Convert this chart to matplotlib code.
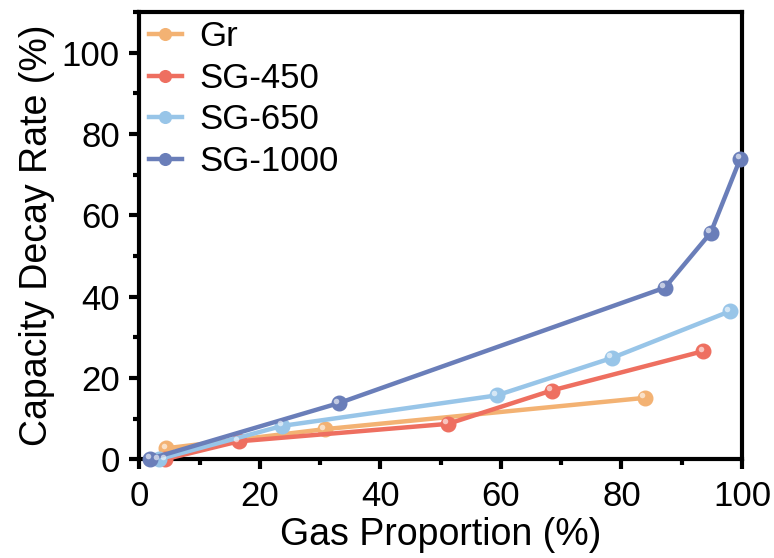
import matplotlib.pyplot as plt
import matplotlib.transforms as mtransforms
from matplotlib.ticker import MultipleLocator

plt.rcParams['font.family'] = ['Liberation Sans', 'DejaVu Sans']

names = ['Gr', 'SG-450', 'SG-650', 'SG-1000']
colors = ['#F3B273', '#EE6F60', '#98C5E8', '#6A7EB9']

gr_x = [4.5, 30.8, 83.9]
gr_y = [2.7, 7.4, 15.1]
sg450_x = [4.3, 16.5, 51.2, 68.4, 93.6]
sg450_y = [0.0, 4.4, 8.7, 16.9, 26.6]
sg650_x = [3.2, 23.7, 59.3, 78.4, 98.0]
sg650_y = [0.0, 8.2, 15.7, 24.9, 36.4]
sg1000_x = [1.8, 33.1, 87.2, 94.8, 99.7]
sg1000_y = [0.1, 13.8, 42.2, 55.7, 73.9]

series = [(gr_x, gr_y), (sg450_x, sg450_y), (sg650_x, sg650_y), (sg1000_x, sg1000_y)]

fig = plt.figure(figsize=(7.74, 5.58), dpi=100)
ax = fig.add_axes([0.18, 0.177, 0.7787, 0.8015])

hl = mtransforms.offset_copy(ax.transData, fig=fig, x=-2.5, y=2.5, units='dots')

for (xs, ys), name, c in zip(series, names, colors):
    ax.plot(xs, ys, '-o', color=c, lw=3.2, ms=10.5, mec=c, mfc=c, label=name, clip_on=False, zorder=3)
    # little shine on the balls
    ax.plot(xs, ys, 'o', color='white', ms=4, mec='none', alpha=0.6, transform=hl, clip_on=False, zorder=4)

ax.set_xlim(0, 100)
ax.set_ylim(0, 110)
ax.xaxis.set_major_locator(MultipleLocator(20))
ax.xaxis.set_minor_locator(MultipleLocator(10))
ax.yaxis.set_major_locator(MultipleLocator(20))
ax.yaxis.set_minor_locator(MultipleLocator(10))
ax.set_yticks([0, 20, 40, 60, 80, 100])

for s in ax.spines.values():
    s.set_linewidth(3)
ax.tick_params(which='major', direction='out', length=7, width=3, labelsize=25)
ax.tick_params(axis='x', which='major', pad=8)
ax.tick_params(axis='y', which='major', pad=7)
ax.tick_params(which='minor', direction='out', length=4.5, width=3)

ax.set_xlabel('Gas Proportion (%)', fontsize=27, labelpad=3)
ax.set_ylabel('Capacity Decay Rate (%)', fontsize=27, labelpad=5)

ax.legend(loc='upper left', frameon=False, fontsize=25, handlelength=0.95, handletextpad=0.5,
          labelspacing=0.25, borderaxespad=0.0, markerscale=0.8, bbox_to_anchor=(-0.007, 1.013))

fig.savefig('out.png', dpi=100)
